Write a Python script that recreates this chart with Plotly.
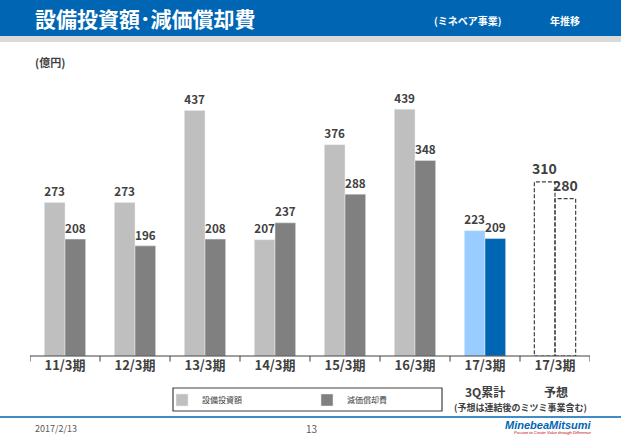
import plotly.graph_objects as go

categories = ["11/3期", "12/3期", "13/3期", "14/3期", "15/3期", "16/3期", "17/3期", "17/3期"]
capex = [273, 273, 437, 207, 376, 439, 223]
depr = [208, 196, 208, 237, 288, 348, 209]
forecast_capex = 310
forecast_depr = 280
capex_colors = ["#BFBFBF"] * 6 + ["#99CCFF"]
depr_colors = ["#808080"] * 6 + ["#0066B3"]

W, H = 621, 438
L, R, T, B = 30, 31, 75, 82
xs = list(range(len(capex)))
bw = 0.295
font = "Noto Sans CJK JP"
lab = dict(family=font, size=14, color="#404040")

fig = go.Figure()
fig.add_bar(x=xs, y=capex, name="設備投資額", marker_color=capex_colors, width=bw, offset=-bw,
            text=capex, texttemplate="<b>%{text}</b>", textposition="outside", textfont=lab, cliponaxis=False)
fig.add_bar(x=xs, y=depr, name="減価償却費", marker_color=depr_colors, width=bw, offset=0,
            text=depr, texttemplate="<b>%{text}</b>", textposition="outside", textfont=lab, cliponaxis=False)
shapes = []
fx = len(capex)
for v, x0 in [(forecast_capex, fx - bw), (forecast_depr, fx)]:
    shapes.append(dict(type="rect", xref="x", yref="y", x0=x0, x1=x0 + bw, y0=0, y1=v,
                       line=dict(color="#404040", width=1.2, dash="4px,2px"), fillcolor="rgba(0,0,0,0)",
                       layer="above"))
    fig.add_annotation(x=x0 + bw / 2, y=v, yshift=14, text=f"<b>{v}</b>", showarrow=False, font=lab)
for i in range(len(categories) + 1):
    shapes.append(dict(type="line", xref="x", yref="paper", x0=i - 0.5, x1=i - 0.5, y0=0, y1=-0.02,
                       line=dict(color="#404040", width=1)))
shapes.append(dict(type="line", xref="paper", yref="paper", x0=0, x1=1, y0=0, y1=0,
                   line=dict(color="#404040", width=1)))
def py(p):
    return 1 - (p - T) / (H - T - B)
def px(p):
    return (p - L) / (W - L - R)
shapes += [
    dict(type="rect", xref="paper", yref="paper", x0=px(0), x1=px(W), y0=py(36), y1=py(0),
         fillcolor="#0066B3", line_width=0, layer="below"),
    dict(type="rect", xref="paper", yref="paper", x0=px(0), x1=px(W), y0=py(42), y1=py(36),
         fillcolor="#D9D9D9", line_width=0, layer="below"),
    dict(type="rect", xref="paper", yref="paper", x0=px(173), x1=px(442), y0=py(411), y1=py(388),
         line=dict(color="#404040", width=1.2), fillcolor="rgba(0,0,0,0)"),
    dict(type="line", xref="paper", yref="paper", x0=px(0), x1=px(W), y0=py(417), y1=py(417),
         line=dict(color="#0066B3", width=1.5)),
]
def ann(x, y, text, size, color="#404040", xanchor="left", bold=True, **kw):
    fig.add_annotation(xref="paper", yref="paper", x=px(x), y=py(y), text=f"<b>{text}</b>" if bold else text,
                       showarrow=False, xanchor=xanchor, yanchor="middle",
                       font=dict(family=font, size=size, color=color), **kw)
ann(33, 18, "設備投資額･減価償却費", 21, "white")
ann(432, 21, "(ミネベア事業)", 10, "white")
ann(548, 21, "年推移", 10, "white")
ann(33, 62, "(億円)", 11)
ann(485, 391, "3Q累計", 12, xanchor="center")
ann(556, 391, "予想", 12, xanchor="center")
ann(520, 407, "(予想は連結後のミツミ事業含む)", 9, xanchor="center")
ann(33, 428, "2017/2/13", 9, "#595959", bold=False)
ann(311, 428, "13", 10, "#595959", xanchor="center", bold=False)
fig.add_annotation(xref="paper", yref="paper", x=px(594), y=py(425), text="<b><i>MinebeaMitsumi</i></b>",
                   showarrow=False, xanchor="right", yanchor="middle",
                   font=dict(family="Liberation Sans", size=11, color="#0066B3"))
fig.add_annotation(xref="paper", yref="paper", x=px(594), y=py(433), text="<i>Passion to Create Value through Difference</i>",
                   showarrow=False, xanchor="right", yanchor="middle",
                   font=dict(family="Liberation Sans", size=4, color="#C00000"))

fig.update_layout(
    width=W, height=H, margin=dict(l=L, r=R, t=T, b=B, autoexpand=False), plot_bgcolor="white", paper_bgcolor="white",
    barmode="overlay", shapes=shapes,
    showlegend=True,
    legend=dict(orientation="h", x=px(307), y=py(400), xanchor="center", yanchor="middle",
                font=dict(family=font, size=8, color="#404040"), bgcolor="rgba(0,0,0,0)",
                itemwidth=30, entrywidth=100, traceorder="normal"),
    xaxis=dict(range=[-0.5, len(categories) - 0.5], tickmode="array", tickvals=list(range(len(categories))),
               ticktext=[f"<b>{c}</b>" for c in categories], showgrid=False, zeroline=False, showline=False,
               ticks="", tickfont=dict(family=font, size=13, color="#404040")),
    yaxis=dict(range=[0, 500], visible=False),
)
fig.write_html("out.html", config={"displayModeBar": False},
               post_script="document.body.style.margin='0';document.body.style.overflow='hidden';")
